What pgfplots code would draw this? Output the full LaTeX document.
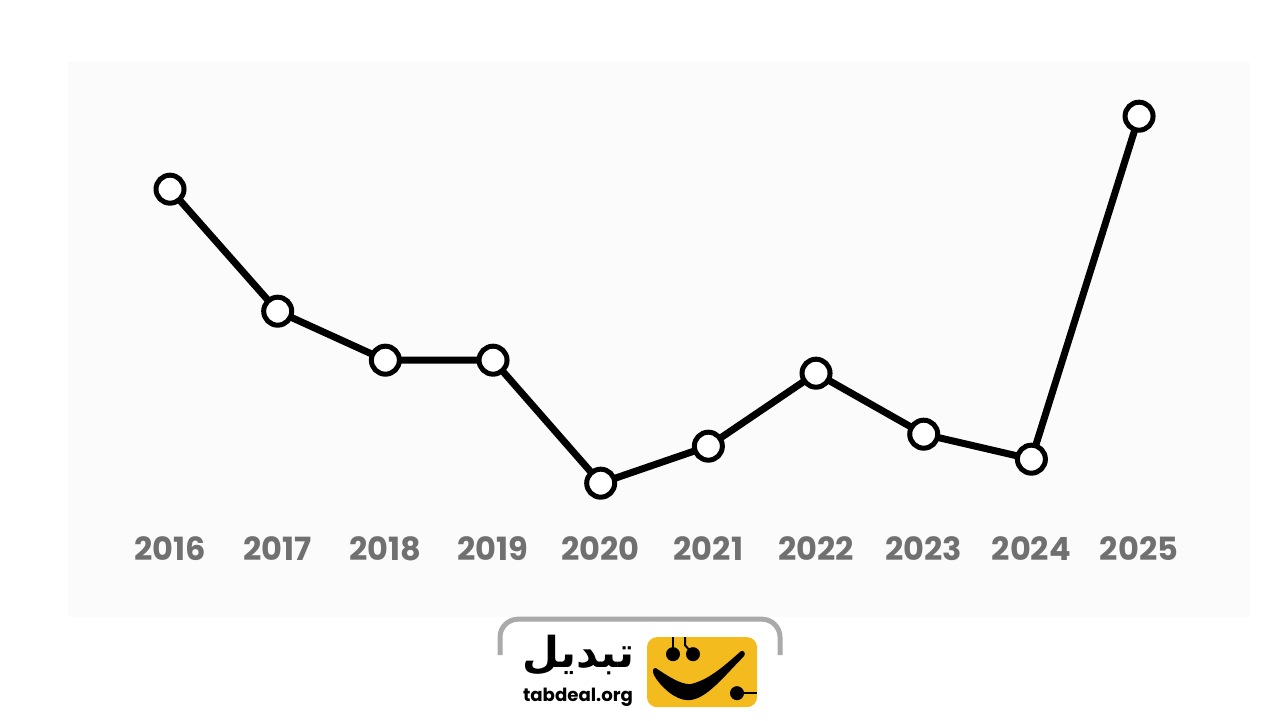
\documentclass[border=0pt]{standalone}
\usepackage{fontspec}
\usepackage{pgfplots}
\pgfplotsset{compat=1.18}
\usepackage{graphicx}
\setmainfont{Poppins}
\TeXXeTstate=1
\newfontfamily\arabicfont[Script=Arabic]{DejaVu Sans}

\definecolor{panel}{RGB}{251,251,251}
\definecolor{ticktext}{RGB}{112,112,112}
\definecolor{brand}{RGB}{243,187,30}
\definecolor{frame}{RGB}{170,170,170}

\begin{document}
\begin{tikzpicture}
% canvas and background panel, in pixel units (origin top left)
\begin{scope}[shift={(0pt,360pt)}, x=0.5pt, y=-0.5pt]
  \fill[white] (0,0) rectangle (1280,720);
  \fill[panel] (68,62) rectangle (1250,617);
\end{scope}

\begin{axis}[
  at={(0pt,0pt)}, anchor=south west,
  scale only axis, width=640pt, height=360pt,
  xmin=2014.421, xmax=2026.309, ymin=0, ymax=720,
  axis line style={draw=none},
  major tick length=0pt,
  ytick=\empty,
  xtick={2016,2017,2018,2019,2020,2021,2022,2023,2024,2025},
  xticklabels={2016,2017,2018,2019,2020,2021,2022,2023,2024,2025},
  xticklabel style={anchor=base, yshift=80pt, font=\fontsize{16}{18}\selectfont\bfseries, text=ticktext},
  clip=false,
]
\addplot[black, line width=3.5pt, line join=round,
  mark=*, mark size=7pt,
  mark options={fill=white, draw=black, line width=2.5pt}]
  coordinates {
    (2016,531) (2017,409) (2018,360) (2019,360) (2020,237)
    (2021,274) (2022,347) (2023,286) (2024,261) (2025,604)
  };
\end{axis}

% brand badge at the bottom
\begin{scope}[shift={(0pt,360pt)}, x=0.5pt, y=-0.5pt]
  \fill[white] (500,720) -- (500,637) arc[start angle=180, end angle=270, radius=18]
    -- (762,619) arc[start angle=270, end angle=360, radius=18] -- (780,720) -- cycle;
  \draw[frame, line width=2.5pt] (500,655) -- (500,637) arc[start angle=180, end angle=270, radius=18]
    -- (762,619) arc[start angle=270, end angle=360, radius=18] -- (780,655);
  \fill[brand, rounded corners=5pt] (647,637) rectangle (757,707);
  % eyes with their leads
  \draw[black, line width=1pt] (673,637) -- (673,650);
  \draw[black, line width=1pt] (685,637) -- (685,645) -- (693,654);
  \fill[black] (673,654) circle[radius=7];
  \fill[black] (693,654) circle[radius=7];
  % smile
  \fill[black] (656,668) .. controls (668,676) and (680,684) .. (690,684)
    .. controls (710,680) and (728,662) .. (741,651)
    .. controls (744,650) and (746,653) .. (744,656)
    .. controls (724,676) and (706,700) .. (688,700)
    .. controls (675,700) and (660,686) .. (654,675)
    .. controls (652,671) and (653,667) .. (656,668) -- cycle;
  % side node
  \draw[black, line width=1pt] (737,693) -- (757,693);
  \fill[black] (737,693) circle[radius=7];
  % wordmark
  \node[inner sep=0pt] at (578,655) {\resizebox{56pt}{!}{\arabicfont\bfseries\beginR تبدیل\endR}};
  \node[inner sep=0pt] at (578,697) {\resizebox{55pt}{!}{\bfseries tabdeal.org}};
\end{scope}
\end{tikzpicture}
\end{document}
